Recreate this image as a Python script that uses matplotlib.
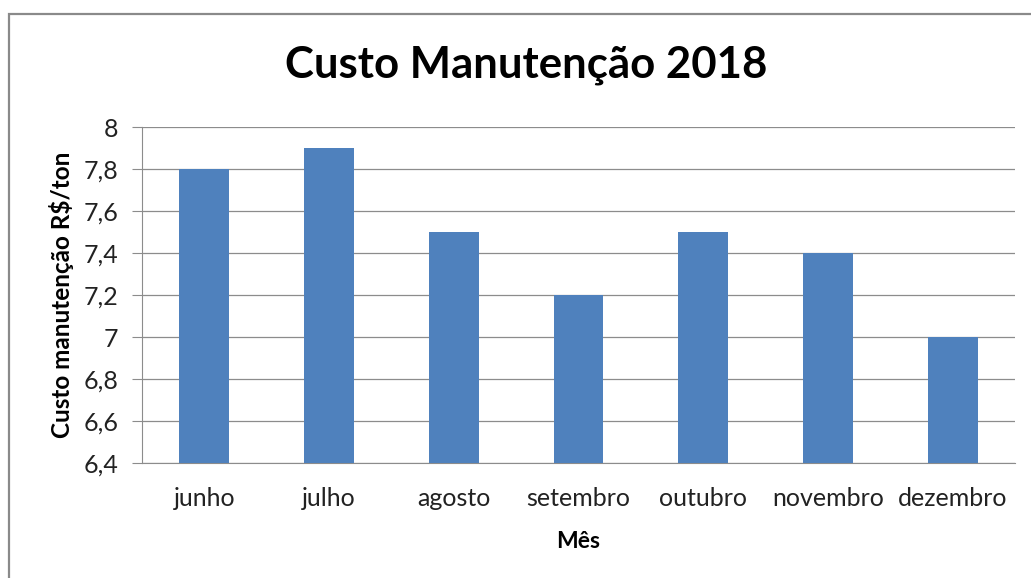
import matplotlib.pyplot as plt
from matplotlib.patches import Rectangle
from matplotlib.ticker import FuncFormatter, MultipleLocator

meses = ['junho', 'julho', 'agosto', 'setembro', 'outubro', 'novembro', 'dezembro']
custos = [7.8, 7.9, 7.5, 7.2, 7.5, 7.4, 7.0]

plt.rcParams['font.family'] = ['Lato', 'DejaVu Sans']

fig = plt.figure(figsize=(10.31, 5.78), dpi=100)
ax = fig.add_axes([0.1377, 0.199, 0.8468, 0.581])

# moldura cinza em volta do gráfico (sai pela direita e por baixo)
fig.patches.append(Rectangle((9 / 1031, -0.2), 1.2, 1.2 - 14 / 578,
                             transform=fig.transFigure, fill=False,
                             edgecolor='#8a8a8a', linewidth=1.6, clip_on=False))

x = range(len(meses))
ax.bar(x, custos, width=0.4, color='#4F81BD', zorder=3)

ax.set_xlim(-0.5, len(meses) - 0.5)
ax.set_ylim(6.4, 8)
ax.yaxis.set_major_locator(MultipleLocator(0.2))
ax.yaxis.set_major_formatter(FuncFormatter(lambda v, p: f'{v:.1f}'.rstrip('0').rstrip('.').replace('.', ',')))
ax.set_xticks(list(x))
ax.set_xticklabels(meses)

ax.grid(axis='y', color='#8c8c8c', linewidth=0.9, zorder=0)
for s in ['top', 'right']:
    ax.spines[s].set_visible(False)
ax.spines['left'].set_color('#8c8c8c')
ax.spines['bottom'].set_color('#8c8c8c')
ax.spines['left'].set_zorder(4)

ax.tick_params(axis='y', length=7, color='#8c8c8c', labelsize=18, pad=10, labelcolor='#222222')
ax.tick_params(axis='x', length=0, labelsize=18, pad=17.5, labelcolor='#222222')

fig.text(526 / 1031, 1 - 65 / 578, 'Custo Manutenção 2018', fontsize=31.5,
         fontweight='bold', ha='center', va='center')
ax.set_ylabel('Custo manutenção R$/ton', fontsize=17.5, fontweight='bold', labelpad=7)
ax.set_xlabel('Mês', fontsize=16.5, fontweight='bold', labelpad=15)

fig.savefig('out.png', dpi=100)
